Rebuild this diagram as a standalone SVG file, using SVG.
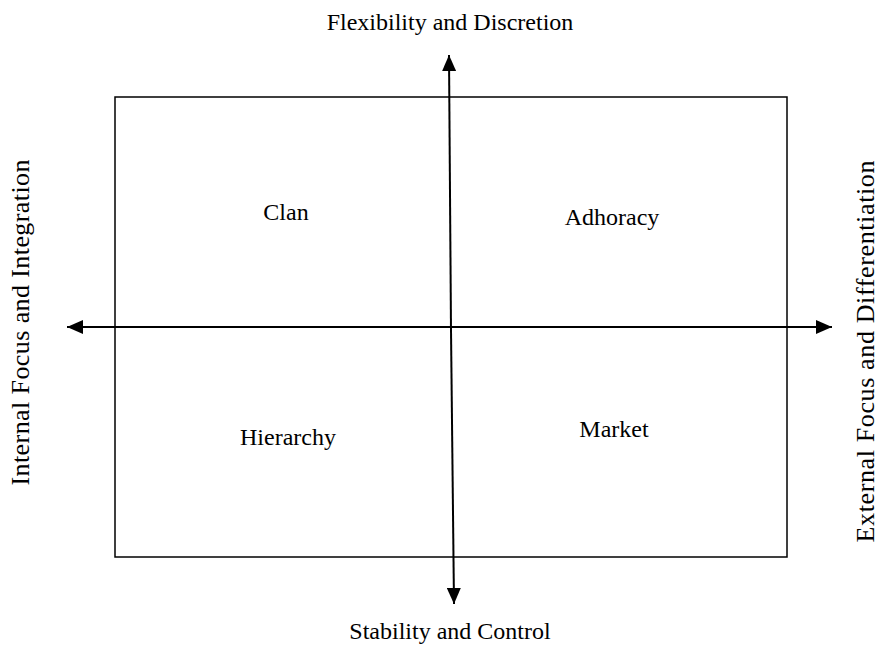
<svg xmlns="http://www.w3.org/2000/svg" width="880" height="645" viewBox="0 0 880 645">
<style>
text{font-family:"Liberation Serif","Times New Roman",serif;font-size:24px;fill:#000;text-anchor:middle}
.side{font-size:26px}
.ln{stroke:#000;stroke-width:2;fill:none}
</style>
<defs>
<marker id="a" viewBox="0 0 16 14" refX="16" refY="7" markerWidth="16" markerHeight="14" markerUnits="userSpaceOnUse" orient="auto">
<path d="M0,0 L16,7 L0,14 Z" fill="#000"/>
</marker>
</defs>
<rect id="frame" x="115" y="97" width="672" height="460" fill="none" stroke="#000" stroke-width="1.5"/>
<g id="connectors">
<line class="ln" x1="451" y1="330" x2="449" y2="55" marker-end="url(#a)"/>
<line class="ln" x1="451" y1="330" x2="454" y2="604" marker-end="url(#a)"/>
<line class="ln" x1="450" y1="327" x2="67" y2="327" marker-end="url(#a)"/>
<line class="ln" x1="450" y1="327" x2="832" y2="327" marker-end="url(#a)"/>
</g>
<g id="clan"><text x="286" y="220">Clan</text></g>
<g id="adhoracy"><text x="612" y="225">Adhoracy</text></g>
<g id="hierarchy"><text x="288" y="445">Hierarchy</text></g>
<g id="market"><text x="614" y="437">Market</text></g>
<g id="top-label"><text x="450" y="30">Flexibility and Discretion</text></g>
<g id="bottom-label"><text x="450" y="639">Stability and Control</text></g>
<g id="left-label"><text class="side" transform="translate(29,322.5) rotate(-90)" textLength="326">Internal Focus and Integration</text></g>
<g id="right-label"><text class="side" transform="translate(874,351.5) rotate(-90)" textLength="382">External Focus and Differentiation</text></g>
</svg>
